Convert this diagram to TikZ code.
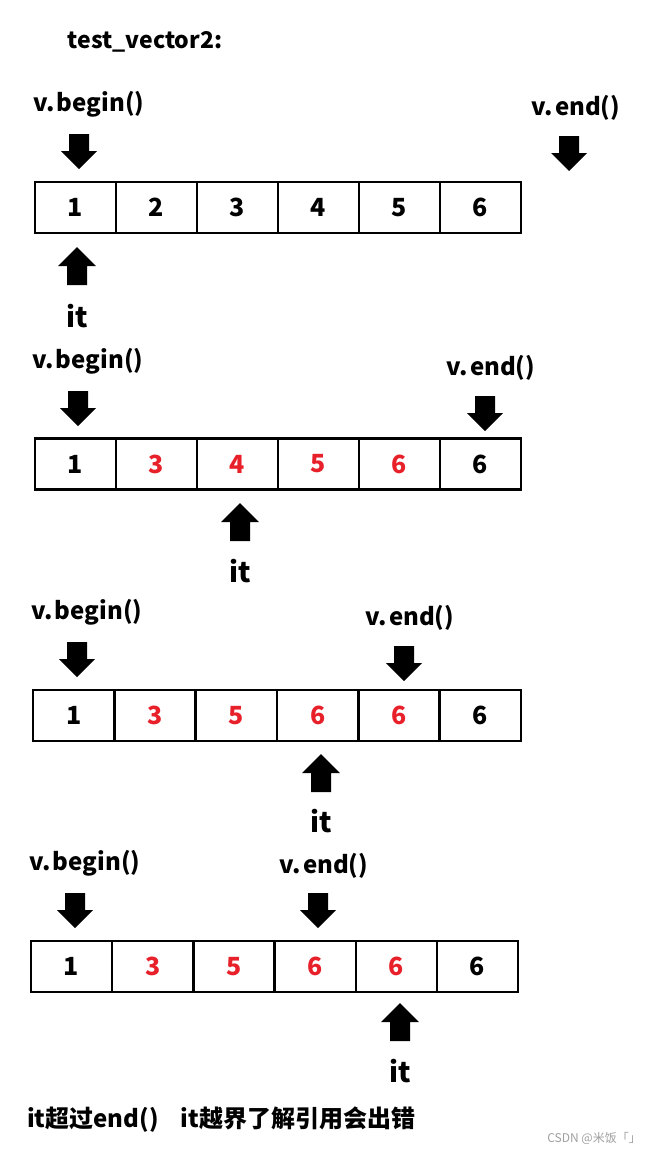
\documentclass[tikz,border=0pt]{standalone}
\usepackage{fontspec}
\setmainfont{Noto Sans CJK SC}
\definecolor{numred}{HTML}{E8202A}
\definecolor{wmgray}{HTML}{A0A0A0}
\newcommand{\vb}{v.\kern2bp begin()}
\newcommand{\ve}{v.\kern2bp end()}
\begin{document}
\begin{tikzpicture}[x=1bp,y=-1bp,
  cell/.style={draw,line width=2.2bp,minimum width=81bp,minimum height=51bp,inner sep=0pt,
    font=\fontsize{25bp}{29bp}\selectfont\bfseries},
  rd/.style={text=numred},
  lbl/.style={inner sep=0pt,font=\fontsize{24bp}{28bp}\selectfont\bfseries},
  itlbl/.style={inner sep=0pt,font=\fontsize{28bp}{32bp}\selectfont\bfseries},
  dn/.pic={\fill (-10,0) -- (10,0) -- (10,17) -- (18,17) -- (0,35) -- (-18,17) -- (-10,17) -- cycle;},
  up/.pic={\fill (0,0) -- (19,19) -- (10,19) -- (10,38) -- (-10,38) -- (-10,19) -- (-19,19) -- cycle;}
]
\useasboundingbox (0,0) rectangle (655,1151);
\fill[white] (0,0) rectangle (655,1151);

\node[lbl,font=\fontsize{23bp}{27bp}\selectfont\bfseries] (title) at (145,42) {test\_vector2:};

% ---- row 1
\node[lbl] (b1) at (89,104) {\vb};
\node[lbl] (e1) at (576,108) {\ve};
\pic at (79,134) {dn};
\pic at (569,136) {dn};
\foreach \t [count=\i] in {1,2,3,4,5,6}
  \node[cell] (r1c\i) at (35+81*\i-40.5,207.5) {\t};
\pic at (77,247) {up};
\node[itlbl] (it1) at (77,316) {it};

% ---- row 2
\node[lbl] (b2) at (88,361) {\vb};
\node[lbl] (e2) at (491,368) {\ve};
\pic at (78,391) {dn};
\pic at (485,396) {dn};
\node[cell] (r2c1) at (75.5,464) {1};
\node[cell,rd] (r2c2) at (156.5,464) {3};
\node[cell,rd] (r2c3) at (237.5,464) {4};
\node[cell,rd] (r2c4) at (318.5,464) {5};
\node[cell,rd] (r2c5) at (399.5,464) {6};
\node[cell] (r2c6) at (480.5,464) {6};
\pic at (240,503) {up};
\node[itlbl] (it2) at (240,571) {it};

% ---- row 3
\node[lbl] (b3) at (87,612) {\vb};
\node[lbl] (e3) at (410,618) {\ve};
\pic at (77,642) {dn};
\pic at (404,646) {dn};
\node[cell] (r3c1) at (73.7,715.5) {1};
\node[cell,rd] (r3c2) at (155,715.5) {3};
\node[cell,rd] (r3c3) at (236.3,715.5) {5};
\node[cell,rd] (r3c4) at (317.7,715.5) {6};
\node[cell,rd] (r3c5) at (399,715.5) {6};
\node[cell] (r3c6) at (480.3,715.5) {6};
\pic at (321,754) {up};
\node[itlbl] (it3) at (321,821) {it};

% ---- row 4
\node[lbl] (b4) at (85,863) {\vb};
\node[lbl] (e4) at (324,866) {\ve};
\pic at (75,893) {dn};
\pic at (318,893) {dn};
\node[cell] (r4c1) at (71.6,966.5) {1};
\node[cell,rd] (r4c2) at (152.8,966.5) {3};
\node[cell,rd] (r4c3) at (233.9,966.5) {5};
\node[cell,rd] (r4c4) at (315.1,966.5) {6};
\node[cell,rd] (r4c5) at (396.3,966.5) {6};
\node[cell] (r4c6) at (477.4,966.5) {6};
\pic at (400,1003) {up};
\node[itlbl] (it4) at (400,1071) {it};

% ---- bottom
\node[lbl,anchor=west] (note) at (27,1120) {it超过end()\hspace{22bp}it越界了解引用会出错};
\node[inner sep=0pt,anchor=east,text=wmgray,font=\fontsize{12bp}{14bp}\selectfont] (wm) at (641,1138) {CSDN @米饭「」};
\end{tikzpicture}
\end{document}
